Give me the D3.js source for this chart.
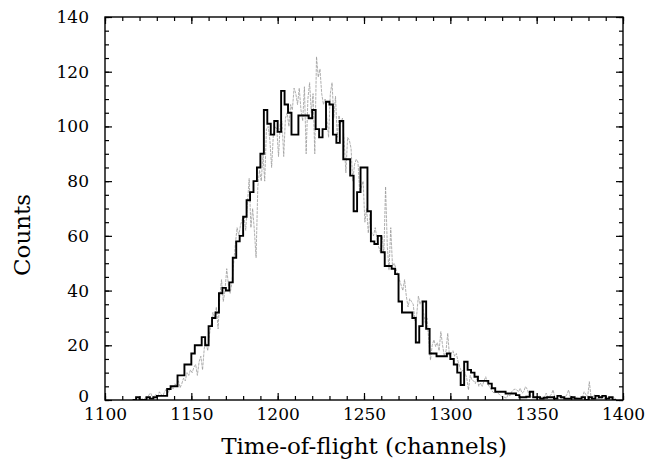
<!DOCTYPE html>
<html lang="en">
<head>
<meta charset="utf-8">
<title>Time-of-flight spectrum</title>
<script src="https://cdn.jsdelivr.net/npm/d3@7"></script>
<style>
  body { margin: 0; background: #fff; }
  text { font-family: "DejaVu Serif", serif; fill: #000; }
</style>
</head>
<body>
<script>
// measured spectrum: 2-channel bins, first bin starts at binStart
var binStart = 1116;
var binWidth = 2;
var measured = [
  0, 1, 0, 0, 1, 0.5, 1, 1.5, 1.5, 1.5,
  4, 5, 5, 9, 9, 13, 13, 17, 20, 20,
  23, 20, 27, 30, 32, 39, 41, 40, 43, 52,
  58, 60, 67, 73, 76, 80, 85, 90, 106, 101,
  97, 102, 98, 113, 108, 105, 97, 97, 104, 104,
  104, 103, 106, 99, 96, 99, 109, 108, 97, 94,
  102, 88, 88, 82, 69, 76, 85, 85, 69, 58,
  57, 60, 54, 49, 49, 48, 46, 36, 32, 32,
  32, 30, 21, 27, 36, 26, 17, 17, 16, 16,
  16, 17, 15, 13, 10, 5.5, 14, 11, 10, 8.5,
  7, 7, 7, 6, 4.3, 3, 3, 3, 2.4, 2.4,
  2.4, 1.8, 1, 1, 1.2, 3, 1, 1, 0.5, 0.8,
  1, 1, 0.5, 1.5, 1, 0.5, 0.5, 1, 0.5, 0.5,
  1, 0, 1, 0.5, 1.5, 1, 1.5, 0.5, 1, 0
];

// simulated spectrum: one value per channel from simStart
var simStart = 1118;
var simulated = [
  0, 0, 0, 0.5, 0, 1, 0.5, 2, 2.5, 1,
  1.5, 2, 1, 3, 2, 1.5, 3, 4, 2.5, 4,
  5, 4, 6, 5, 7, 4.5, 6, 8, 7, 10,
  9, 11, 10, 12, 13, 9, 14, 16, 11, 19,
  21, 18, 24, 28, 32, 30, 34, 26, 38, 44,
  36, 40, 48, 42, 39, 43, 50, 57, 63, 60,
  64, 66, 67, 62, 72, 81, 63, 70, 62, 52,
  78, 84, 80, 90, 80, 99, 100, 95, 85, 97,
  100, 99, 89, 101, 102, 89, 103, 105, 100, 108,
  106, 114, 112, 108, 114, 106, 102, 114.5, 90, 110,
  116, 105, 112, 90, 125.5, 118, 121, 112, 108, 110,
  103, 96, 112, 116, 103, 111, 96, 104, 101, 103,
  95, 83, 96, 95, 92, 80, 86, 88, 87, 76,
  78, 80, 65, 70, 61, 68, 61, 60, 63, 59,
  56, 54, 60, 53.6, 78, 56, 47.5, 63, 49, 50,
  48, 46, 44, 42, 40, 44, 38, 34, 37, 36,
  35, 29, 31, 38, 35, 36.5, 32, 28, 30, 22,
  14.6, 20, 22, 19.5, 21, 18, 25, 20, 16, 18,
  24.4, 16, 17, 18, 16, 17, 14, 12, 10.3, 11,
  10, 8, 3.7, 9, 7.3, 7, 6, 8, 5, 6.2,
  5, 7, 8.5, 6, 5, 4, 3, 2.5, 3, 2.5,
  2, 1.5, 0.6, 1, 0.6, 2, 1.5, 3, 3.7, 4,
  3.7, 3, 4.3, 2.5, 3, 4.9, 4, 2, 1.5, 1,
  1.5, 1, 0.6, 1.5, 1, 0.5, 1, 2.5, 1, 1.5,
  2, 3.7, 1, 0.6, 0.5, 1, 0.6, 0.5, 1, 2,
  3.7, 1, 0.5, 0.6, 0.5, 1, 0.5, 0.5, 1, 3,
  2, 1, 6.7, 1, 0.5, 2, 0.5, 0.6, 0.5, 0.5,
  1, 0.5, 0.5, 1, 0.6, 0.5, 1, 0.5, 0
];

var xTicks = [1100, 1150, 1200, 1250, 1300, 1350, 1400];
var yTicks = [0, 20, 40, 60, 80, 100, 120, 140];
var xLabel = "Time-of-flight (channels)";
var yLabel = "Counts";

var w = 655, h = 462;
var plotL = 105, plotR = 623, plotT = 17, plotB = 400;

var x = d3.scaleLinear().domain([1100, 1400]).range([plotL, plotR]);
var y = d3.scaleLinear().domain([0, 140]).range([plotB, plotT]);

var svg = d3.select("body").append("svg")
  .attr("width", w)
  .attr("height", h);

svg.append("rect").attr("width", w).attr("height", h).attr("fill", "#fff");

svg.append("clipPath").attr("id", "plot")
  .append("rect")
  .attr("x", plotL).attr("y", plotT)
  .attr("width", plotR - plotL).attr("height", plotB - plotT);

// simulated (thin grey, broken print look)
var simLine = d3.line()
  .x(function(d, i) { return x(simStart + i + 0.5); })
  .y(function(d) { return y(d); });

svg.append("path")
  .datum(simulated)
  .attr("clip-path", "url(#plot)")
  .attr("fill", "none")
  .attr("stroke", "#9a9a9a")
  .attr("stroke-width", 0.8)
  .attr("stroke-dasharray", "3,1")
  .attr("d", simLine);

// measured (thick black histogram)
var steps = measured.map(function(d, i) { return [binStart + i * binWidth, d]; });
steps.push([binStart + measured.length * binWidth, measured[measured.length - 1]]);

var stepLine = d3.line()
  .curve(d3.curveStepAfter)
  .x(function(d) { return x(d[0]); })
  .y(function(d) { return y(d[1]); });

svg.append("path")
  .datum(steps)
  .attr("clip-path", "url(#plot)")
  .attr("fill", "none")
  .attr("stroke", "#000")
  .attr("stroke-width", 1.9)
  .attr("d", stepLine);

// axes, ticks pointing inward on all four sides
var xMinor = d3.range(1100, 1401, 10);
var yMinor = d3.range(0, 141, 5);

function styleAxis(g) {
  g.select(".domain").remove();
  g.selectAll("line").attr("stroke", "#000").attr("stroke-width", 1.2);
  g.selectAll("text").attr("font-size", "17px").attr("font-family", "DejaVu Serif, serif").attr("fill", "#000");
}

svg.append("g").attr("transform", "translate(0," + plotB + ")")
  .call(d3.axisBottom(x).tickValues(xMinor).tickSize(-4).tickFormat(""))
  .call(styleAxis);
svg.append("g").attr("transform", "translate(0," + plotB + ")")
  .call(d3.axisBottom(x).tickValues(xTicks).tickSize(-7).tickPadding(8).tickFormat(d3.format("d")))
  .call(styleAxis);

svg.append("g").attr("transform", "translate(0," + plotT + ")")
  .call(d3.axisTop(x).tickValues(xMinor).tickSize(-4).tickFormat(""))
  .call(styleAxis);
svg.append("g").attr("transform", "translate(0," + plotT + ")")
  .call(d3.axisTop(x).tickValues(xTicks).tickSize(-7).tickFormat(""))
  .call(styleAxis);

svg.append("g").attr("transform", "translate(" + plotL + ",0)")
  .call(d3.axisLeft(y).tickValues(yMinor).tickSize(-4).tickFormat(""))
  .call(styleAxis);
svg.append("g").attr("transform", "translate(" + plotL + ",0)")
  .call(d3.axisLeft(y).tickValues(yTicks).tickSize(-7).tickPadding(16))
  .call(styleAxis)
  .selectAll("text")
  .filter(function(d) { return d === 0; })
  .attr("dy", "0.08em");   // lift the zero a little so it clears "1100"

svg.append("g").attr("transform", "translate(" + plotR + ",0)")
  .call(d3.axisRight(y).tickValues(yMinor).tickSize(-4).tickFormat(""))
  .call(styleAxis);
svg.append("g").attr("transform", "translate(" + plotR + ",0)")
  .call(d3.axisRight(y).tickValues(yTicks).tickSize(-7).tickFormat(""))
  .call(styleAxis);

// frame
svg.append("rect")
  .attr("x", plotL).attr("y", plotT)
  .attr("width", plotR - plotL).attr("height", plotB - plotT)
  .attr("fill", "none")
  .attr("stroke", "#000")
  .attr("stroke-width", 1.4);

// axis titles
svg.append("text")
  .attr("x", (plotL + plotR) / 2)
  .attr("y", 454)
  .attr("text-anchor", "middle")
  .attr("font-size", "23px")
  .text(xLabel);

svg.append("text")
  .attr("transform", "translate(30," + 235 + ") rotate(-90)")
  .attr("text-anchor", "middle")
  .attr("font-size", "23px")
  .text(yLabel);
</script>
</body>
</html>
